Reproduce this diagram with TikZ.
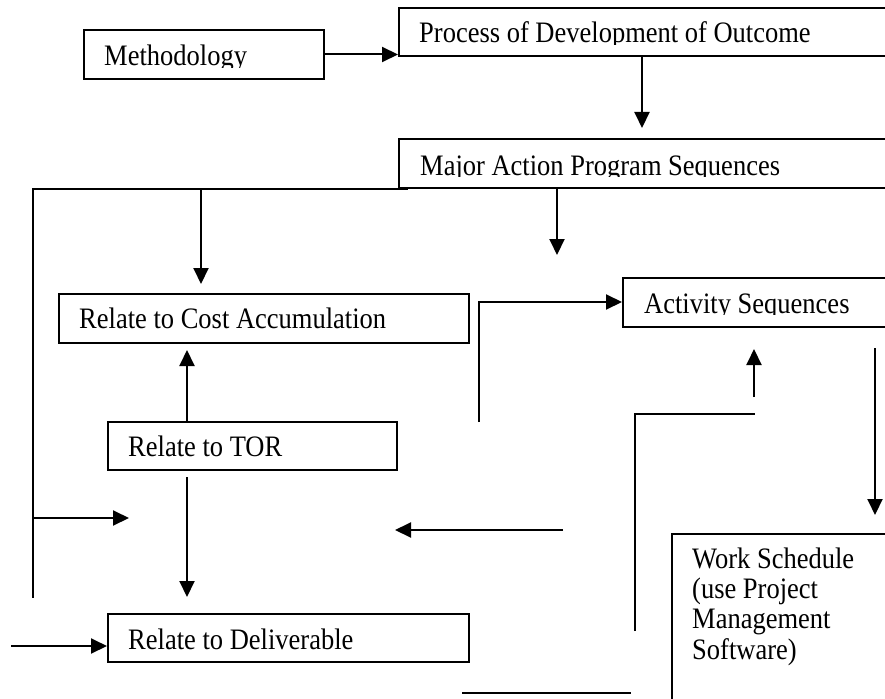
\documentclass[tikz,border=0pt]{standalone}
\usepackage{fontspec}
\setmainfont{Liberation Serif}
\usetikzlibrary{arrows.meta,calc}
\newcommand\vstretch[1]{\scalebox{1}[1.12]{#1}}
\begin{document}
\begin{tikzpicture}[x=1pt,y=-1pt,
  box/.style={draw, line width=2pt, rectangle, inner sep=0pt, anchor=north west},
  txt/.style={inner sep=0pt, anchor=base west, font=\fontsize{26.5}{30}\selectfont},
  ln/.style={line width=2pt},
  arr/.style={line width=2pt, -{Triangle[length=16pt,width=15pt]}}]
\useasboundingbox (0,0) rectangle (885,698);
\fill[white] (0,0) rectangle (885,698);
\clip (0,0) rectangle (885,698);

% boxes
\node[box, minimum width=240pt, minimum height=49pt] (meth) at (83,29) {};
\node[box, minimum width=520pt, minimum height=48pt] (proc) at (398,7) {};
\node[box, minimum width=520pt, minimum height=49pt] (major) at (398,138) {};
\node[box, minimum width=410pt, minimum height=49pt] (cost) at (58,293) {};
\node[box, minimum width=300pt, minimum height=49pt] (act) at (622,277) {};
\node[box, minimum width=289pt, minimum height=48pt] (tor) at (107,421) {};
\node[box, minimum width=361pt, minimum height=48pt] (deliv) at (107,613) {};
\node[box, minimum width=300pt, minimum height=250pt] (work) at (671,533) {};

% texts (clipped like the source text boxes)
\begin{scope}
  \clip (0,0) rectangle (885,67.5);
  \node[txt] (tmeth) at (104,66) {\vstretch{Methodology}};
\end{scope}
\begin{scope}
  \clip (0,0) rectangle (885,44.5);
  \node[txt] (tproc) at (419,43) {\vstretch{Process of Development of Outcome}};
\end{scope}
\begin{scope}
  \clip (0,140) rectangle (885,176.5);
  \node[txt] (tmajor) at (420,175) {\vstretch{Major Action Program Sequences}};
\end{scope}
\begin{scope}
  \clip (0,280) rectangle (885,314);
  \node[txt] (tact) at (644,313) {\vstretch{Activity Sequences}};
\end{scope}
\node[txt] (tcost) at (79,328) {\vstretch{Relate to Cost Accumulation}};
\node[txt] (ttor) at (128,456) {\vstretch{Relate to TOR}};
\node[txt] (tdeliv) at (128,649) {\vstretch{Relate to Deliverable}};
\node[txt] (tw1) at (692,568) {\vstretch{Work Schedule}};
\node[txt] (tw2) at (692,598) {\vstretch{(use Project}};
\node[txt] (tw3) at (692,628) {\vstretch{Management}};
\node[txt] (tw4) at (692,659) {\vstretch{Software)}};

% free ends
\coordinate (p1) at (642,128);
\coordinate (lt) at (408,189);
\coordinate (lc) at (33,189);
\coordinate (lb) at (33,598);
\coordinate (lcb) at (201,189);
\coordinate (lcbt) at (201,284);
\coordinate (lm) at (33,518);
\coordinate (lmt) at (129,518);
\coordinate (torup) at (187,350);
\coordinate (tordn1) at (187,477);
\coordinate (tordn2) at (187,597);
\coordinate (la1) at (563,530);
\coordinate (la2) at (395,530);
\coordinate (md1) at (557,188);
\coordinate (md2) at (557,255);
\coordinate (ai1) at (479,422);
\coordinate (ai2) at (479,302);
\coordinate (au1) at (754,397);
\coordinate (au2) at (754,349);
\coordinate (b1) at (635,631);
\coordinate (b2) at (635,414);
\coordinate (b3) at (755,414);
\coordinate (rv1) at (875,348);
\coordinate (rv2) at (875,515);
\coordinate (bl1) at (462,693);
\coordinate (bl2) at (631,693);
\coordinate (dl) at (11,646);

% connectors
\draw[arr] (meth.east) -- (proc.west |- meth.east);
\draw[arr] (p1 |- proc.south) -- (p1);
\draw[ln] (lt) -- (lc) -- (lb);
\draw[arr] (lcb) -- (lcbt);
\draw[arr] (lm) -- (lmt);
\draw[arr] (torup |- tor.north) -- (torup);
\draw[arr] (tordn1) -- (tordn2);
\draw[arr] (la1) -- (la2);
\draw[arr] (md1) -- (md2);
\draw[arr] (ai1) -- (ai2) -- (ai2 -| act.west);
\draw[arr] (au1) -- (au2);
\draw[ln] (b1) -- (b2) -- (b3);
\draw[arr] (rv1) -- (rv2);
\draw[ln] (bl1) -- (bl2);
\draw[arr] (dl) -- (dl -| deliv.west);
\end{tikzpicture}
\end{document}
